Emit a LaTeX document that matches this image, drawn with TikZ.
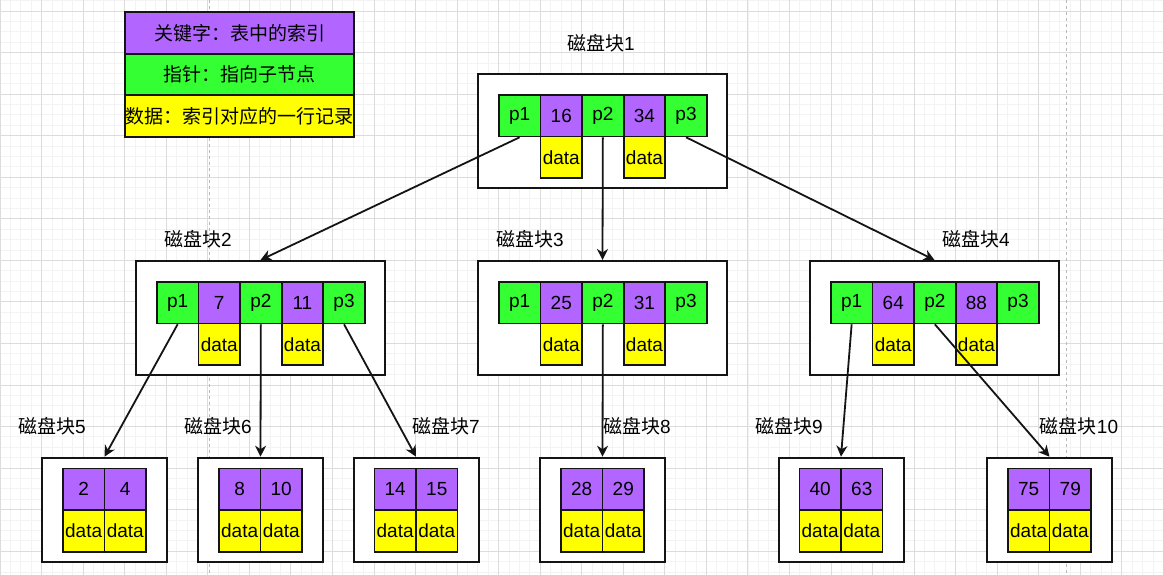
\documentclass[tikz,border=0pt]{standalone}
\usepackage{fontspec}
\setmainfont{Liberation Sans}
\newfontfamily\cjk{Noto Sans CJK SC}
\usetikzlibrary{arrows.meta}
\definecolor{kpurple}{RGB}{178,102,255}
\definecolor{pgreen}{RGB}{51,255,51}
\definecolor{dyellow}{RGB}{255,255,0}
\definecolor{gridminor}{RGB}{243,243,243}
\definecolor{gridmajor}{RGB}{220,220,220}
\definecolor{edgecol}{RGB}{20,20,20}
\tikzset{
  txt/.style={font=\fontsize{19}{22}\selectfont},
  cellbox/.style={draw=edgecol, line width=1.7pt, minimum width=41.6pt, minimum height=41.6pt, inner sep=0pt, anchor=north west, txt},
  outerbox/.style={draw=edgecol, fill=white, line width=2pt, inner sep=0pt, anchor=north west},
  legendrow/.style={draw=edgecol, line width=2pt, minimum width=229pt, minimum height=41.7pt, inner sep=0pt, anchor=north west, txt},
  blklabel/.style={txt, inner sep=0pt},
  conn/.style={draw=edgecol, line width=1.8pt, -{Stealth[length=11pt, width=11pt, inset=3.5pt]}},
}
% name, x0, y0, key1, key2
\newcommand{\innerblk}[5]{%
  \node[outerbox, minimum width=249pt, minimum height=114pt] (#1) at (#2-21,#3-21) {};
  \node[cellbox, fill=pgreen] (#1p1) at (#2,#3) {p1};
  \node[cellbox, fill=kpurple] (#1k1) at (#2+41.6,#3) {#4};
  \node[cellbox, fill=pgreen] (#1p2) at (#2+83.2,#3) {p2};
  \node[cellbox, fill=kpurple] (#1k2) at (#2+124.8,#3) {#5};
  \node[cellbox, fill=pgreen] (#1p3) at (#2+166.4,#3) {p3};
  \node[cellbox, fill=dyellow] (#1d1) at (#2+41.6,#3+41.6) {data};
  \node[cellbox, fill=dyellow] (#1d2) at (#2+124.8,#3+41.6) {data};
}
\newcommand{\leafblk}[5]{%
  \node[outerbox, minimum width=125pt, minimum height=104.5pt] (#1) at (#2-21,#3-11) {};
  \node[cellbox, fill=kpurple] (#1k1) at (#2,#3) {#4};
  \node[cellbox, fill=kpurple] (#1k2) at (#2+41.6,#3) {#5};
  \node[cellbox, fill=dyellow] (#1d1) at (#2,#3+41.6) {data};
  \node[cellbox, fill=dyellow] (#1d2) at (#2+41.6,#3+41.6) {data};
}
\begin{document}
\begin{tikzpicture}[x=1pt, y=-1pt]
\useasboundingbox (0,0) rectangle (1163,575);
\fill[white] (0,0) rectangle (1163,575);
% grid
\foreach \i in {0,...,112} \draw[gridminor, line width=0.8pt] (\i*10.3875,0) -- (\i*10.3875,575);
\foreach \j in {0,...,56} \draw[gridminor, line width=0.8pt] (0,0.6125+\j*10.3875) -- (1163,0.6125+\j*10.3875);
\foreach \i in {0,...,28} \draw[gridmajor, line width=0.9pt] (\i*41.55,0) -- (\i*41.55,575);
\foreach \j in {0,...,14} \draw[gridmajor, line width=0.9pt] (0,11+\j*41.55-41.55) -- (1163,11+\j*41.55-41.55);
\draw[gray!55, line width=1pt, dash pattern=on 3pt off 3pt] (209,0) -- (209,575);
\draw[gray!55, line width=1pt, dash pattern=on 3pt off 3pt] (1066,0) -- (1066,575);

% legend
\node[legendrow, fill=kpurple] (lg1) at (124,11) {\cjk 关键字：表中的索引};
\node[legendrow, fill=pgreen] (lg2) at (124,52.7) {\cjk 指针：指向子节点};
\node[legendrow, fill=dyellow] (lg3) at (124,94.4) {\cjk 数据：索引对应的一行记录};

% blocks
\innerblk{b1}{498}{94}{16}{34}
\innerblk{b2}{156}{281}{7}{11}
\innerblk{b3}{498}{281}{25}{31}
\innerblk{b4}{830}{281}{64}{88}
\leafblk{b5}{62}{467.7}{2}{4}
\leafblk{b6}{218}{467.7}{8}{10}
\leafblk{b7}{373.5}{467.7}{14}{15}
\leafblk{b8}{560}{467.7}{28}{29}
\leafblk{b9}{798.5}{467.7}{40}{63}
\leafblk{b10}{1007}{467.7}{75}{79}

% labels
\node[blklabel] (l1) at (601,43) {{\cjk 磁盘块}1};
\node[blklabel] (l2) at (198,239) {{\cjk 磁盘块}2};
\node[blklabel] (l3) at (530,239) {{\cjk 磁盘块}3};
\node[blklabel] (l4) at (976,239) {{\cjk 磁盘块}4};
\node[blklabel] (l5) at (52,426) {{\cjk 磁盘块}5};
\node[blklabel] (l6) at (218,426) {{\cjk 磁盘块}6};
\node[blklabel] (l7) at (446,426) {{\cjk 磁盘块}7};
\node[blklabel] (l8) at (637,426) {{\cjk 磁盘块}8};
\node[blklabel] (l9) at (789,426) {{\cjk 磁盘块}9};
\node[blklabel] (l10) at (1079,426) {{\cjk 磁盘块}10};

% connectors
\draw[conn] (b1p1.south) -- (b2.north);
\draw[conn] (b1p2.south) -- (b3.north);
\draw[conn] (b1p3.south) -- (b4.north);
\draw[conn] (b2p1.south) -- (b5.north);
\draw[conn] (b2p2.south) -- (b6.north);
\draw[conn] (b2p3.south) -- (b7.north);
\draw[conn] (b3p2.south) -- (b8.north);
\draw[conn] (b4p1.south) -- (b9.north);
\draw[conn] (b4p2.south) -- (b10.north);
\end{tikzpicture}
\end{document}
